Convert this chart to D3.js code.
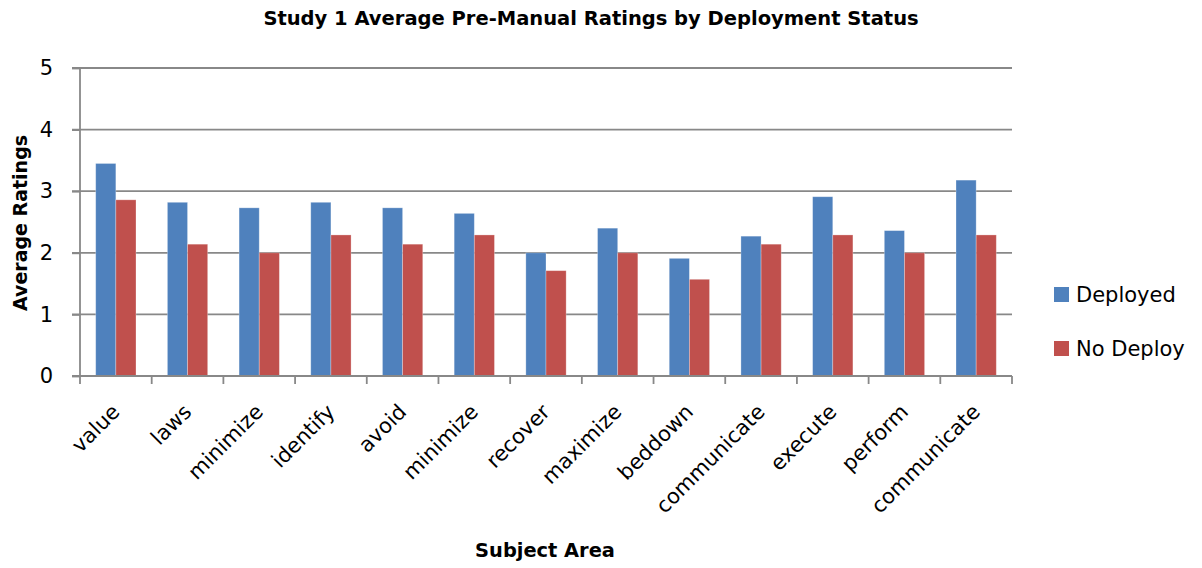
<!DOCTYPE html>
<html>
<head>
<meta charset="utf-8">
<script src="https://cdn.jsdelivr.net/npm/d3@7"></script>
<style>
  body { margin: 0; background: #fff; }
  svg { display: block; font-family: "DejaVu Sans", sans-serif; }
</style>
</head>
<body>
<svg width="1202" height="568"></svg>
<script>
// subject areas along the x axis
var subjects = ['value', 'laws', 'minimize', 'identify', 'avoid', 'minimize',
  'recover', 'maximize', 'beddown', 'communicate', 'execute', 'perform', 'communicate'];
var seriesNames = ['Deployed', 'No Deploy'];
var deployed = [3.45, 2.82, 2.73, 2.82, 2.73, 2.64, 2.00, 2.40, 1.91, 2.27, 2.91, 2.36, 3.18];
var noDeploy = [2.86, 2.14, 2.00, 2.29, 2.14, 2.29, 1.71, 2.00, 1.57, 2.14, 2.29, 2.00, 2.29];
var yTicks = [0, 1, 2, 3, 4, 5];
var colors = ['#4f81bd', '#c0504d'];

var svg = d3.select('svg');
// plot area edges
var pl = 80, pr = 1012, pt = 68, pb = 376;

var x0 = d3.scaleBand()
  .domain(d3.range(subjects.length))
  .range([pl, pr])
  .paddingInner(0.438)
  .paddingOuter(0.219);
var x1 = d3.scaleBand()
  .domain([0, 1])
  .range([0, x0.bandwidth()]);
var y = d3.scaleLinear().domain([0, 5]).range([pb, pt]);

// gridlines
svg.append('g')
  .selectAll('line')
  .data(yTicks.filter(d => d > 0))
  .enter().append('line')
    .attr('x1', pl - 8)
    .attr('x2', pr)
    .attr('y1', d => y(d))
    .attr('y2', d => y(d))
    .attr('stroke', '#888888')
    .attr('stroke-width', 1.8);

// bars
var groups = svg.append('g')
  .selectAll('g')
  .data(subjects.map((s, i) => [deployed[i], noDeploy[i]]))
  .enter().append('g')
    .attr('transform', (d, i) => 'translate(' + x0(i) + ',0)');

groups.selectAll('rect')
  .data(d => d)
  .enter().append('rect')
    .attr('x', (d, j) => x1(j))
    .attr('y', d => y(d))
    .attr('width', x1.bandwidth())
    .attr('height', d => y(0) - y(d))
    .attr('fill', (d, j) => colors[j])
    .attr('stroke', '#ffffff')
    .attr('stroke-opacity', 0.35)
    .attr('stroke-width', 0.8);

// y axis
var yAxis = svg.append('g')
  .attr('transform', 'translate(' + pl + ',0)')
  .call(d3.axisLeft(y).tickValues(yTicks).tickSize(8).tickPadding(19).tickFormat(d3.format('d')));
yAxis.select('.domain').attr('stroke', '#888888').attr('stroke-width', 1.8).attr('d', 'M0,' + pt + 'V' + pb);
yAxis.selectAll('.tick line').attr('stroke', '#888888').attr('stroke-width', 1.8);
yAxis.selectAll('.tick text')
  .attr('font-size', 21)
  .attr('font-family', '"DejaVu Sans", sans-serif')
  .attr('fill', '#000');

// x axis
var xEdges = d3.range(subjects.length + 1).map(i => pl + i * x0.step());
var xg = svg.append('g');
xg.append('line')
  .attr('x1', pl - 8).attr('x2', pr)
  .attr('y1', pb).attr('y2', pb)
  .attr('stroke', '#888888').attr('stroke-width', 1.8);
xg.selectAll('.xt')
  .data(xEdges)
  .enter().append('line')
    .attr('x1', d => d).attr('x2', d => d)
    .attr('y1', pb).attr('y2', pb + 8)
    .attr('stroke', '#888888').attr('stroke-width', 1.8);

xg.selectAll('text')
  .data(subjects)
  .enter().append('text')
    .attr('transform', (d, i) => 'translate(' + (x0(i) + x0.bandwidth() / 2 - 6) + ',' + (pb + 26) + ') rotate(-45)')
    .attr('text-anchor', 'end')
    .attr('dy', '0.75em')
    .attr('font-size', 21)
    .text(d => d);

// title and axis titles
svg.append('text')
  .attr('x', 591).attr('y', 25)
  .attr('text-anchor', 'middle')
  .attr('font-size', 19.5)
  .attr('font-weight', 'bold')
  .text('Study 1 Average Pre-Manual Ratings by Deployment Status');

svg.append('text')
  .attr('transform', 'translate(27,223) rotate(-90)')
  .attr('text-anchor', 'middle')
  .attr('font-size', 19)
  .attr('font-weight', 'bold')
  .text('Average Ratings');

svg.append('text')
  .attr('x', 545).attr('y', 557)
  .attr('text-anchor', 'middle')
  .attr('font-size', 19.4)
  .attr('font-weight', 'bold')
  .text('Subject Area');

// legend
var legend = svg.append('g')
  .selectAll('g')
  .data(seriesNames)
  .enter().append('g')
    .attr('transform', (d, i) => 'translate(1054,' + (287 + i * 54) + ')');
legend.append('rect')
  .attr('width', 15).attr('height', 15)
  .attr('fill', (d, i) => colors[i]);
legend.append('text')
  .attr('x', 22).attr('y', 15)
  .attr('font-size', 21)
  .text(d => d);
</script>
</body>
</html>
